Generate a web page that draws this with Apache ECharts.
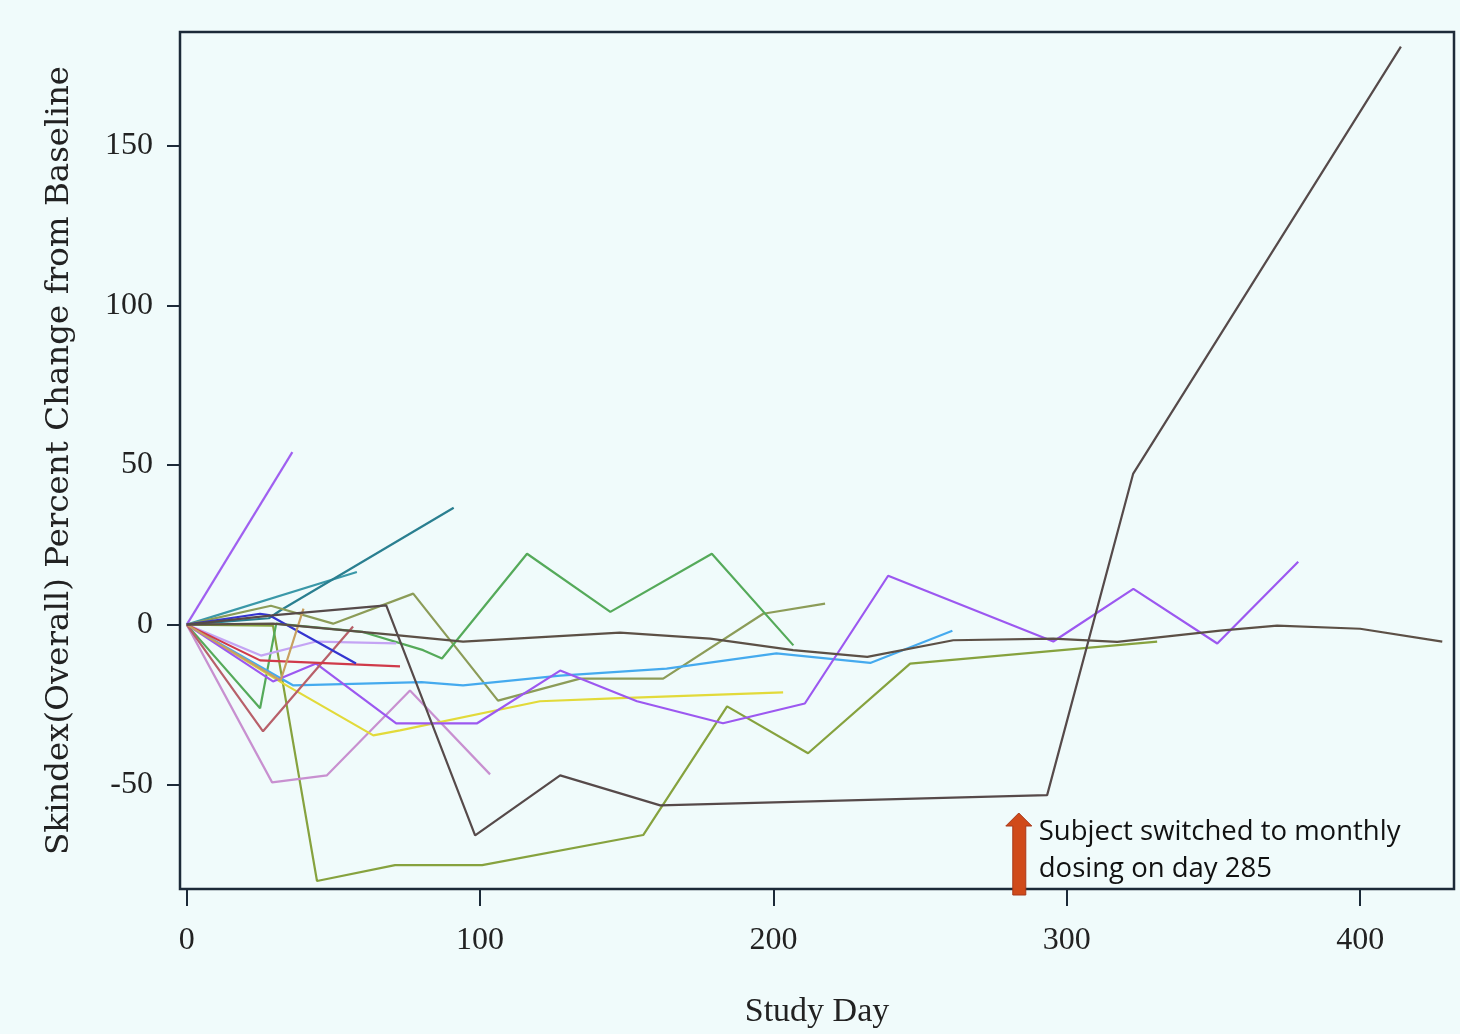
<!DOCTYPE html>
<html>
<head>
<meta charset="utf-8">
<script src="https://cdn.jsdelivr.net/npm/echarts@6/dist/echarts.min.js"></script>
<style>
  html, body { margin: 0; padding: 0; background: #f0fbfb; }
  #chart { width: 1460px; height: 1034px; }
</style>
</head>
<body>
<div id="chart"></div>
<script>
// Tick labels
const xTicks = [0, 100, 200, 300, 400];
const yTicks = [-50, 0, 50, 100, 150];

// Subject series: [study day, percent change]
const sPurpleSteep = [[0,0],[36,54]];
const sTealA = [[0,0],[58,16.5]];
const sTealB = [[0,0],[28,2],[32,4.5],[91,36.6]];
const sDarkDrop = [[0,0],[30,3],[68,6],[98.3,-66],[127.3,-47.2],[161.4,-56.6],[293.3,-53.4],[322.6,47.2],[413.9,181]];
const sDarkFlat = [[0,0],[29.4,0.3],[71.4,-3.3],[94.2,-5.3],[147.7,-2.5],[178.4,-4.4],[206.7,-8],[232,-10.1],[261.3,-4.9],[295.4,-4.4],[317.2,-5.4],[352.3,-1.9],[371.7,-0.3],[400,-1.3],[428,-5.3]];
const sGreen = [[0,0],[25,-26.2],[30.5,0.3],[60,-2.3],[80.6,-8],[87,-10.6],[116,22.2],[144.4,4],[179,22.2],[206.8,-6.5]];
const sKhaki = [[0,0],[28.7,5.9],[49.9,0.3],[77.2,9.7],[106.1,-23.8],[134.1,-16.9],[162.4,-16.9],[196.5,3.4],[217.6,6.6]];
const sOliveLow = [[0,0],[29.4,-0.3],[44.4,-80.3],[71,-75.3],[100.7,-75.3],[155.6,-65.9],[184.2,-25.6],[211.8,-40.3],[246.6,-12.2],[330.8,-5.3]];
const sBlue = [[0,0],[25,3.4],[28,3],[57.7,-12.2]];
const sRed = [[0,0],[25,-11.2],[72.7,-13.1]];
const sRosy = [[0,0],[26,-33.4],[56.7,-0.6]];
const sLavender = [[0,0],[25.3,-9.7],[44.1,-5.3],[71.4,-5.9]];
const sViolet = [[0,0],[29.4,-17.8],[44.1,-12.2],[71.4,-30.9],[99,-30.9],[127.3,-14.4],[153.5,-24],[182.8,-30.9],[210.7,-24.7],[239.1,15.3],[295.4,-5.3],[322.7,11.2],[351.3,-5.9],[378.9,19.7]];
const sPink = [[0,0],[29.1,-49.4],[47.8,-47.2],[76.1,-20.6],[103.4,-46.9]];
const sYellow = [[0,0],[32.8,-18.4],[63.6,-34.7],[72.7,-33.1],[120.4,-24],[145.4,-23.1],[203.3,-21.2]];
const sLightBlue = [[0,0],[36.2,-19],[80,-18],[94.2,-19],[127.3,-16],[163.6,-13.8],[201,-9],[233,-12],[261,-1.9]];
const sTan = [[0,0],[32,-17.5],[39.8,5]];

const seriesList = [
  ['Subject 1', sPurpleSteep, '#a060f0'],
  ['Subject 2', sTealA, '#3a98a8'],
  ['Subject 3', sTealB, '#2a7f90'],
  ['Subject 4', sOliveLow, '#86a23e'],
  ['Subject 5', sKhaki, '#8c9c58'],
  ['Subject 6', sGreen, '#55aa5a'],
  ['Subject 7', sPink, '#c890d0'],
  ['Subject 8', sYellow, '#e2da3a'],
  ['Subject 9', sLightBlue, '#45aaee'],
  ['Subject 10', sViolet, '#9c58f0'],
  ['Subject 11', sLavender, '#c4a4f4'],
  ['Subject 12', sRosy, '#b8606a'],
  ['Subject 13', sRed, '#d03a4a'],
  ['Subject 14', sBlue, '#3535d0'],
  ['Subject 15', sTan, '#c8a060'],
  ['Subject 16', sDarkFlat, '#5c5046'],
  ['Subject 17', sDarkDrop, '#564a4a']
];

const annotationDay = 285;
const annotationTip = -59;
const annotationLines = ['Subject switched to monthly', 'dosing on day 285'];

const chart = echarts.init(document.getElementById('chart'), null, { renderer: 'canvas' });

const axisColor = '#1c2a38';
const option = {
  backgroundColor: '#f0fbfb',
  animation: false,
  grid: {
    left: 180, right: 6, top: 32, bottom: 143,
    show: true, borderColor: axisColor, borderWidth: 2.5,
    backgroundColor: 'transparent'
  },
  xAxis: {
    type: 'value',
    min: -2.3, max: 432,
    name: 'Study Day',
    nameLocation: 'middle',
    nameGap: 106,
    nameTextStyle: { fontFamily: 'Liberation Serif', fontSize: 34, color: '#222' },
    splitLine: { show: false },
    axisLine: { show: false, onZero: false },
    axisTick: { show: true, inside: false, length: 17, customValues: xTicks, lineStyle: { color: axisColor, width: 2 } },
    axisLabel: { customValues: xTicks, margin: 36, fontFamily: 'Liberation Serif', fontSize: 32, color: '#222' }
  },
  yAxis: {
    type: 'value',
    min: -82.8, max: 185.6,
    name: 'Skindex(Overall) Percent Change from Baseline',
    nameLocation: 'middle',
    nameGap: 104,
    nameTextStyle: { fontFamily: 'DejaVu Serif', fontSize: 32.5, color: '#222' },
    splitLine: { show: false },
    axisLine: { show: false, onZero: false },
    axisTick: { show: true, inside: false, length: 13, customValues: yTicks, lineStyle: { color: axisColor, width: 2 } },
    axisLabel: { customValues: yTicks, margin: 27, fontFamily: 'Liberation Serif', fontSize: 32, color: '#222' }
  },
  series: seriesList.map(([name, data, color]) => ({
    name, type: 'line', data,
    symbol: 'none', showSymbol: false,
    lineStyle: { color, width: 2.2 },
    z: 2
  }))
};
chart.setOption(option);

// Annotation arrow and text, positioned from data coordinates
const tip = chart.convertToPixel({ gridIndex: 0 }, [annotationDay, annotationTip]);
const base = chart.convertToPixel({ gridIndex: 0 }, [annotationDay, -82.8]);
const ax = tip[0] - 4, ty = tip[1];
const by = base[1] + 6;
chart.setOption({
  graphic: [
    {
      type: 'polygon',
      shape: { points: [
        [ax, ty], [ax + 13, ty + 13], [ax + 7, ty + 13], [ax + 7, by],
        [ax - 6, by], [ax - 6, ty + 13], [ax - 13, ty + 13]
      ] },
      style: { fill: '#d04a1a', stroke: '#a8391a', lineWidth: 1 },
      z: 10
    },
    {
      type: 'text',
      left: ax + 20, top: ty + 1,
      style: {
        text: annotationLines.join('\n'),
        font: '27.5px "Open Sans"',
        lineHeight: 37,
        fill: '#111'
      },
      z: 10
    }
  ]
});
</script>
</body>
</html>
